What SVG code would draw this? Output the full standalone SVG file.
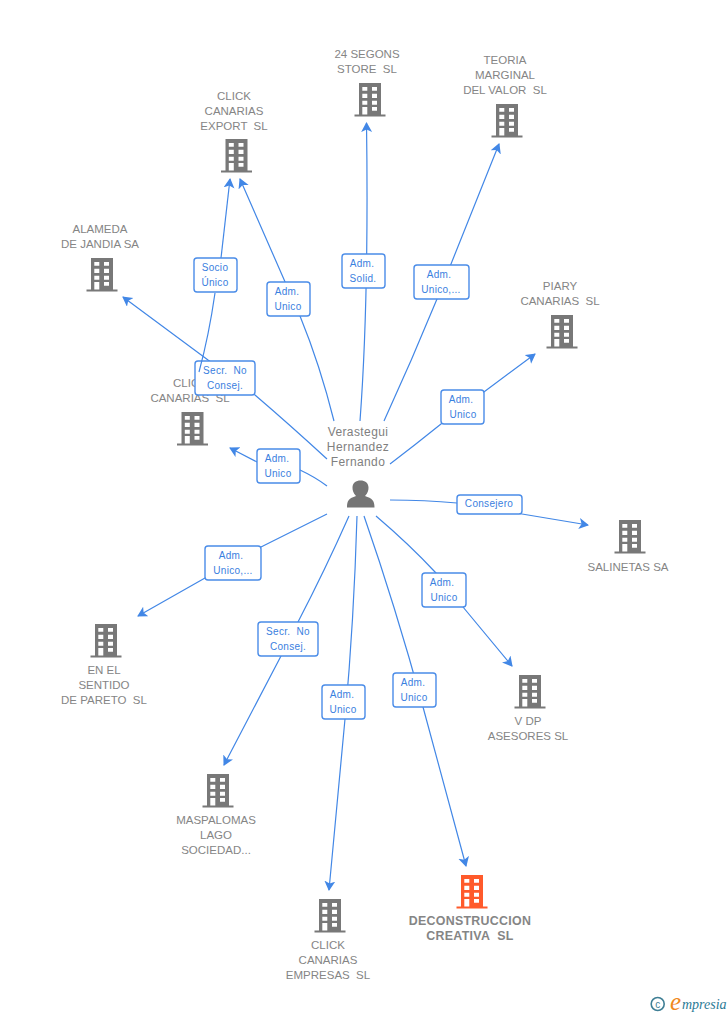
<svg xmlns="http://www.w3.org/2000/svg" width="728" height="1015" viewBox="0 0 728 1015">
<style>
text{font-family:"Liberation Sans",Arial,sans-serif;white-space:pre}
.n{font-size:11.5px;fill:#858585;text-anchor:middle}
.c{font-size:12.4px;font-weight:bold;fill:#858585;text-anchor:middle;letter-spacing:.3px}
.p{font-size:12px;fill:#808080;text-anchor:middle;letter-spacing:.4px}
.l{font-size:10px;fill:#3a80e0;text-anchor:middle;letter-spacing:.3px}
.e{fill:none;stroke:#4287e6;stroke-width:1.2}
.b{fill:#fff;stroke:#4a8ce8;stroke-width:1.4}
</style>
<defs>
<marker id="a" markerWidth="13" markerHeight="13" refX="9" refY="5.500" orient="auto" markerUnits="userSpaceOnUse"><path d="M0 0L10 5.500L0 11L2.500 5.500Z" fill="#4287e6"/></marker>
<g id="bld"><path d="M-11-17H11V14.500H15.500V16.500H-15.500V14.500H-11ZM-7.700-13V-9.300H-2.700V-13ZM2-13V-9.300H7V-13ZM-7.700-6.300V-2H-2.700V-6.300ZM2-6.300V-2H7V-6.300ZM-7.700 .7V4.700H-2.700V.7ZM2 .7V4.700H7V.7ZM-7.700 7V14.500H-2.700V7ZM2 7V10.700H7V7Z" fill-rule="evenodd"/></g>
</defs>
<g id="connectors">
<path class="e" marker-end="url(#a)" d="M360 421Q369 300 366.500 123"/>
<path class="e" marker-end="url(#a)" d="M334 421Q320 365 300 316L240 179"/>
<path class="e" marker-end="url(#a)" d="M384 421Q412 360 437 299L499 144"/>
<path class="e" marker-end="url(#a)" d="M390 464Q415 445 441 424L535 354"/>
<path class="e" marker-end="url(#a)" d="M327 459Q290 425 255 395Q230 375 208 360L123 297"/>
<path class="e" marker-end="url(#a)" d="M327 486Q315 477 300 470L257 462L230 448"/>
<path class="e" marker-end="url(#a)" d="M390 500Q425 500 457 503L522 514L588 525"/>
<path class="e" marker-end="url(#a)" d="M327 514Q295 530 261 547L205 578L138 616"/>
<path class="e" marker-end="url(#a)" d="M376 516Q410 545 436 573L463 607L512 666"/>
<path class="e" marker-end="url(#a)" d="M349 516Q325 570 298 622L281 656L224 765"/>
<path class="e" marker-end="url(#a)" d="M357 516Q354 620 345 719L329 890"/>
<path class="e" marker-end="url(#a)" d="M364 516Q395 605 423 707L466 866"/>
<path class="e" marker-end="url(#a)" d="M221 258L230 179"/>
</g>
<g id="node-segons"><use href="#bld" x="370" y="100" fill="#787878"/><text class="n" x="367" y="58">24 SEGONS</text><text class="n" x="367" y="73">STORE  SL</text></g>
<g id="node-teoria"><use href="#bld" x="507" y="121" fill="#787878"/><text class="n" x="505" y="64">TEORIA</text><text class="n" x="505" y="79">MARGINAL</text><text class="n" x="505" y="94">DEL VALOR  SL</text></g>
<g id="node-export"><use href="#bld" x="236.500" y="156" fill="#787878"/><text class="n" x="234" y="100">CLICK</text><text class="n" x="234" y="115">CANARIAS</text><text class="n" x="234" y="130">EXPORT  SL</text></g>
<g id="node-alameda"><use href="#bld" x="102" y="275" fill="#787878"/><text class="n" x="100" y="233">ALAMEDA</text><text class="n" x="100" y="248">DE JANDIA SA</text></g>
<g id="node-piary"><use href="#bld" x="562" y="332" fill="#787878"/><text class="n" x="560" y="290">PIARY</text><text class="n" x="560" y="305">CANARIAS  SL</text></g>
<g id="node-canarias"><use href="#bld" x="192.500" y="429" fill="#787878"/><text class="n" x="190" y="387">CLICK</text><text class="n" x="190" y="402">CANARIAS  SL</text></g>
<g id="node-salinetas"><use href="#bld" x="630" y="537" fill="#787878"/><text class="n" x="628" y="571">SALINETAS SA</text></g>
<g id="node-pareto"><use href="#bld" x="106" y="641" fill="#787878"/><text class="n" x="104" y="674">EN EL</text><text class="n" x="104" y="689">SENTIDO</text><text class="n" x="104" y="704">DE PARETO  SL</text></g>
<g id="node-vdp"><use href="#bld" x="530" y="692" fill="#787878"/><text class="n" x="528" y="725">V DP</text><text class="n" x="528" y="740">ASESORES SL</text></g>
<g id="node-maspalomas"><use href="#bld" x="218" y="791" fill="#787878"/><text class="n" x="216" y="824">MASPALOMAS</text><text class="n" x="216" y="839">LAGO</text><text class="n" x="216" y="854">SOCIEDAD...</text></g>
<g id="node-empresas"><use href="#bld" x="330" y="916" fill="#787878"/><text class="n" x="328" y="949">CLICK</text><text class="n" x="328" y="964">CANARIAS</text><text class="n" x="328" y="979">EMPRESAS  SL</text></g>
<g id="node-deconstruccion"><use href="#bld" x="472" y="892" fill="#ff5a2b"/><text class="c" x="470" y="925">DECONSTRUCCION</text><text class="c" x="470" y="940">CREATIVA  SL</text></g>
<g id="node-person"><path d="M347 507.500C347 500 349 498.500 356 496C353 493 352.500 490 352.500 487.500C352.500 483 356 480.500 360.500 480.500C365 480.500 368.500 483 368.500 487.500C368.500 490 368 493 365 496C372 498.500 374.500 500 374.500 507.500Z" fill="#757575"/><text class="p" x="358" y="436">Verastegui</text><text class="p" x="358" y="451">Hernandez</text><text class="p" x="358" y="466">Fernando</text></g>
<g id="labels">
<g><rect class="b" x="194" y="258" width="43" height="34" rx="3"/><text class="l" x="215" y="271">Socio</text><text class="l" x="215" y="286">Único</text></g>
<g><rect class="b" x="267" y="282" width="43" height="34" rx="3"/><text class="l" x="287" y="295">Adm.</text><text class="l" x="288" y="310">Unico</text></g>
<g><rect class="b" x="342" y="254" width="43" height="34" rx="3"/><text class="l" x="362" y="267">Adm.</text><text class="l" x="363" y="282">Solid.</text></g>
<g><rect class="b" x="414" y="265" width="55" height="34" rx="3"/><text class="l" x="439" y="278">Adm.</text><text class="l" x="441" y="293">Unico,...</text></g>
<g><rect class="b" x="441" y="390" width="43" height="34" rx="3"/><text class="l" x="461" y="403">Adm.</text><text class="l" x="463" y="418">Unico</text></g>
<g><rect class="b" x="195" y="361" width="60" height="34" rx="3"/><text class="l" x="225" y="374">Secr.  No</text><text class="l" x="225" y="389">Consej.</text></g>
<g><rect class="b" x="257" y="449" width="43" height="34" rx="3"/><text class="l" x="277" y="462">Adm.</text><text class="l" x="278" y="477">Unico</text></g>
<g><rect class="b" x="457" y="495" width="65" height="19" rx="3"/><text class="l" x="489" y="507">Consejero</text></g>
<g><rect class="b" x="205" y="546" width="56" height="34" rx="3"/><text class="l" x="231" y="559">Adm.</text><text class="l" x="233" y="574">Unico,...</text></g>
<g><rect class="b" x="422" y="573" width="44" height="34" rx="3"/><text class="l" x="442" y="586">Adm.</text><text class="l" x="444" y="601">Unico</text></g>
<g><rect class="b" x="258" y="622" width="60" height="34" rx="3"/><text class="l" x="288" y="635">Secr.  No</text><text class="l" x="288" y="650">Consej.</text></g>
<g><rect class="b" x="322" y="685" width="43" height="34" rx="3"/><text class="l" x="342" y="698">Adm.</text><text class="l" x="343" y="713">Unico</text></g>
<g><rect class="b" x="393" y="673" width="43" height="34" rx="3"/><text class="l" x="413" y="686">Adm.</text><text class="l" x="414" y="701">Unico</text></g>
</g>
<g id="connector-socio"><path class="e" d="M199 372Q209 335 215 293"/></g>
<g id="logo"><circle cx="657.700" cy="1004" r="6.500" fill="none" stroke="#3f7f95" stroke-width="1.600"/><text x="657.700" y="1007.500" font-size="10" fill="#3f7f95" text-anchor="middle">c</text><text x="670" y="1010" font-size="25" fill="#f08a1d" font-style="italic" style="font-family:'Liberation Serif',serif">e</text><text x="682" y="1009" font-size="14" fill="#2c7a96" font-style="italic" style="font-family:'Liberation Serif',serif">mpresia</text></g>
</svg>
